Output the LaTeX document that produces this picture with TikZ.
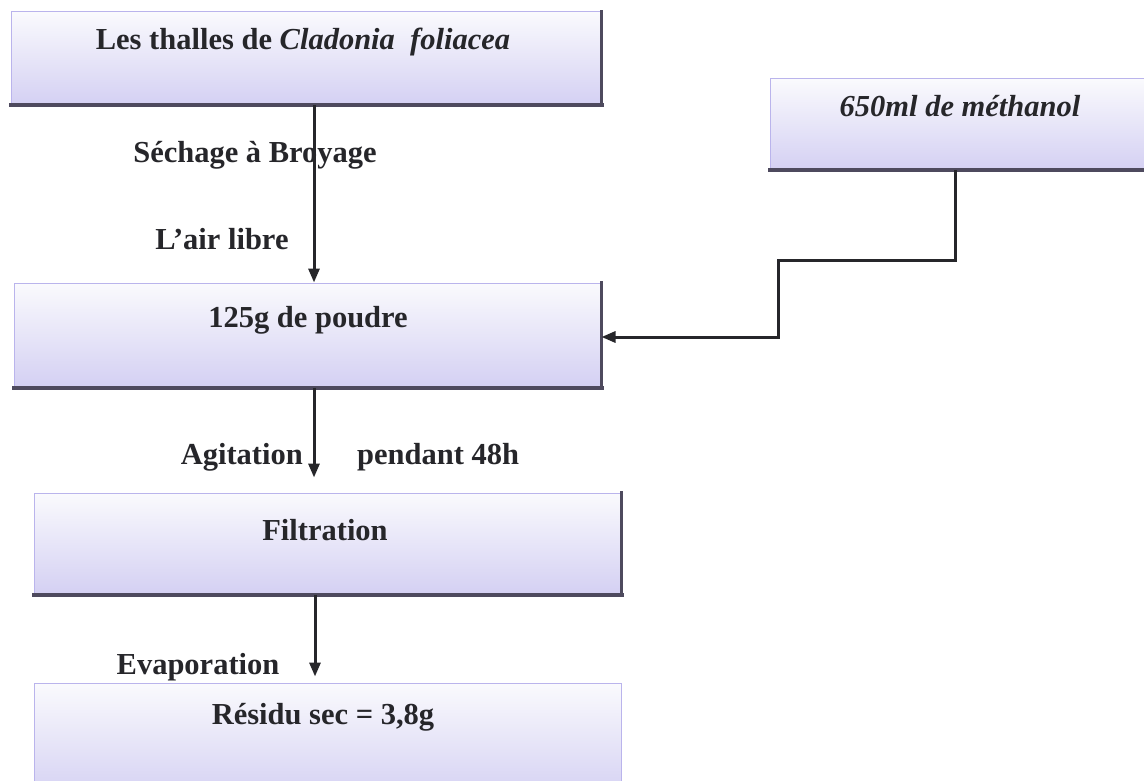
\documentclass[tikz,border=0pt]{standalone}
\usepackage{fontspec}
\setmainfont{Liberation Serif}
\usetikzlibrary{arrows.meta}
\definecolor{lavtop}{RGB}{250,250,253}
\definecolor{lavbot}{RGB}{212,208,243}
\definecolor{lavedge}{RGB}{186,180,236}
\definecolor{darkedge}{RGB}{78,74,94}
\definecolor{ink}{RGB}{38,38,42}
\tikzset{
  boxnode/.style={rectangle, inner sep=0pt, top color=lavtop, bottom color=lavbot, draw=lavedge, line width=1pt},
  lbl/.style={inner sep=0pt, text=ink, font=\fontsize{30.5}{36}\selectfont\bfseries},
  conn/.style={draw=ink, line width=3pt},
  arr/.style={conn, -{Triangle[length=14pt,width=11pt]}},
  shadowedge/.style={draw=darkedge, line cap=rect}
}
\newcommand{\boxshadow}[1]{%
  \draw[shadowedge, line width=4pt] (#1.south west) -- (#1.south east);
  \draw[shadowedge, line width=2.2pt] (#1.south east) -- (#1.north east);
}
\begin{document}
\begin{tikzpicture}[x=1pt,y=-1pt]
\useasboundingbox (0,0) rectangle (1144,781);
\clip (0,0) rectangle (1144,781);
\fill[white] (0,0) rectangle (1144,781);

% boxes
\node[boxnode, minimum width=590pt, minimum height=93pt] (b1) at (306,58.5) {};
\node[boxnode, minimum width=384pt, minimum height=91pt] (m) at (962,124.5) {};
\node[boxnode, minimum width=587pt, minimum height=104pt] (b2) at (307.5,335) {};
\node[boxnode, minimum width=587pt, minimum height=101pt] (b3) at (327.5,543.5) {};
\node[boxnode, minimum width=587pt, minimum height=117pt] (b4) at (327.5,741.5) {};
\boxshadow{b1}
\boxshadow{m}
\boxshadow{b2}
\boxshadow{b3}

% box texts
\node[lbl] (t1) at (303,42) {Les thalles de \textit{Cladonia\ \ foliacea}};
\node[lbl] (tm) at (960,106) {\textit{650ml de méthanol}};
\node[lbl] (t2) at (308,320) {125g de poudre};
\node[lbl] (t3) at (325,530) {Filtration};
\node[lbl] (t4) at (323,717) {Résidu sec = 3,8g};

% coordinates for connectors
\coordinate (c1) at (314,0);
\coordinate (c2) at (315,0);
\coordinate (p1) at (955,260);
\coordinate (p2) at (778,260);
\coordinate (p3) at (778,337);

% connectors
\draw[arr] (b1.south -| c1) -- (b2.north -| c1);
\draw[arr] (m.south -| p1) -- (p1) -- (p2) -- (p3) -- (b2.east |- p3);
\draw[arr, shorten >=15pt] (b2.south -| c1) -- (b3.north -| c1);
\draw[arr, shorten >=6pt] (b3.south -| c2) -- (b4.north -| c2);

% step labels
\node[lbl] (l1) at (255,155) {Séchage à Broyage};
\node[lbl] (l2) at (222,239) {L’air libre};
\node[lbl, anchor=east] (l3) at (303,457) {Agitation};
\node[lbl, anchor=west] (l4) at (357,457) {pendant 48h};
\node[lbl] (l5) at (198,667) {Evaporation};
\end{tikzpicture}
\end{document}
